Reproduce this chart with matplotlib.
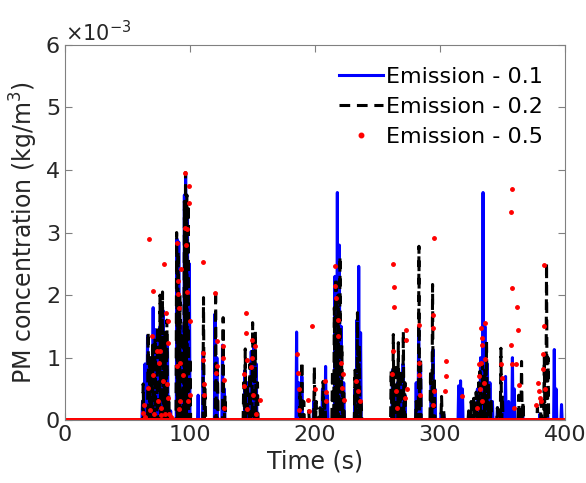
import numpy as np
import matplotlib
matplotlib.use("Agg")
import matplotlib.pyplot as plt
from matplotlib.ticker import ScalarFormatter

# peak values, in units of 1e-3 kg/m^3
blue_t = [62, 64, 66, 68, 70.5, 72, 74, 76, 78.5, 80, 82, 84.5, 89.5, 91, 93, 95.5, 96.5, 98, 99.5, 106.5,
          110.5, 120, 121.5, 126, 127.5, 144, 146, 149, 151, 153,
          185.3, 187, 189.5, 199, 206, 208.5, 210, 216, 217.9, 219.5, 221, 223,
          232, 233.5, 235, 236.5, 262, 264, 266, 268.5, 270.5, 272,
          281, 283, 284.5, 293, 294.5, 296, 301, 303, 315, 316.5, 318,
          330, 332.5, 334.5, 336, 338, 340, 342, 346, 350, 352.5, 355, 358, 359.5, 366, 380, 386, 391.5, 393, 397.3]
blue_h = [0.3, 0.9, 1.35, 1.0, 1.8, 1.45, 1.3, 1.5, 1.75, 1.4, 1.2, 0.15, 2.9, 2.85, 1.5, 3.6, 3.94, 3.3, 2.5, 0.4,
          1.1, 1.7, 1.0, 1.2, 0.5, 0.8, 0.6, 1.1, 1.2, 0.9,
          1.41, 0.6, 0.7, 0.3, 0.5, 0.86, 0.4, 2.3, 3.64, 2.8, 1.5, 0.6,
          0.5, 1.6, 2.46, 1.4, 0.8, 0.5, 0.6, 0.75, 0.9, 0.4,
          0.6, 1.48, 0.9, 0.7, 1.13, 0.5, 0.12, 0.1, 0.55, 0.63, 0.5,
          0.5, 1.0, 3.64, 1.5, 0.9, 0.6, 0.3, 0.2, 0.3, 0.7, 0.3, 1.0, 0.5, 0.2, 0.1, 0.2, 1.13, 0.5, 0.25]

black_t = [62.5, 66.5, 68, 70, 72, 74, 76, 78, 80, 81.5, 83, 89.3, 90.5, 92, 94, 95.5, 96.4, 97.5, 98.5, 100,
           110.8, 112, 120.5, 122, 126.5, 128, 143, 144.2, 146, 148, 150.1, 152.3, 154,
           188, 189.5, 191, 195, 199.5, 201, 204, 206.5, 208, 214, 215.5, 216.8, 218.5, 220, 221.5, 223,
           232, 234, 235.5, 237, 261, 262.7, 264.5, 266.7, 268.5, 270.7, 272,
           281, 283.2, 284.5, 292.5, 294.1, 295.5, 301.3, 303,
           323, 325, 327, 329, 331, 332, 334, 336, 337.3, 339, 341, 346, 348.8, 350, 363, 365.3, 366.5,
           378, 381, 383.5, 385.3, 386.5]
black_h = [0.58, 1.41, 1.0, 1.2, 1.32, 1.5, 2.0, 2.05, 1.4, 1.6, 0.4, 3.0, 2.7, 2.0, 1.4, 3.5, 3.96, 3.6, 3.45, 1.0,
           1.96, 0.5, 2.09, 0.8, 1.64, 0.4, 0.6, 1.14, 0.6, 0.9, 1.56, 1.42, 0.6,
           0.5, 0.94, 0.3, 0.15, 0.85, 0.3, 0.2, 0.62, 0.3, 0.8, 1.8, 2.28, 2.0, 2.62, 1.2, 0.5,
           0.8, 1.72, 1.2, 0.3, 0.8, 1.37, 0.9, 1.24, 0.8, 1.42, 0.6,
           0.3, 2.78, 1.0, 0.8, 2.17, 0.7, 0.38, 0.15,
           0.15, 0.3, 0.35, 0.45, 0.6, 0.78, 0.9, 0.8, 1.26, 0.6, 0.3, 0.2, 1.15, 0.4, 0.4, 0.94, 0.3,
           0.2, 0.3, 1.0, 2.52, 1.0]

red_t = [62.7, 63.2, 64, 66.7, 67.5, 68, 69.9, 70.1, 70.3, 71, 73.3, 74, 75.5, 76, 76.5, 77, 78.7, 79.2, 80, 81,
         81.2, 82, 82.2, 82.7, 83.5, 85,
         89.3, 89.5, 90.1, 90.7, 91.4, 91.5, 92, 92.2, 92.5, 94.7, 95.7, 96, 96.8, 97.3, 97.9, 98.9, 99.5, 99.7, 100, 98,
         110.1, 110.5, 110.7, 111, 111.3, 120.2, 120.8, 121.3, 121.6, 126.4, 126.7, 127, 127.5,
         143, 143.3, 144.5, 144.8, 145.6, 146, 148.5, 149.3, 150, 150.5, 152, 153, 156,
         185.5, 186.7, 187, 187.3, 194.5, 195, 197.9, 200, 208.3, 208.7, 209, 216, 216.3, 216.6, 218.5, 218.8,
         220.5, 221.5, 222.5, 223.5, 232.8, 234.5, 236,
         262.5, 262.7, 263, 263.3, 262, 264.5, 266, 272.8, 273.1, 273.3, 272,
         283, 283.4, 283.6, 284, 294.3, 294.6, 295.5, 295, 294.8, 304.5, 304.8, 304.3, 317.5,
         330, 331, 331.5, 332, 333, 333.3, 333.5, 333.2, 336, 336.4, 335.5, 334, 348.8, 350,
         356.8, 357.3, 357.1, 357.7, 358, 359.5, 362, 362.3, 363, 361,
         377, 378.7, 379.5, 380, 381, 382.5, 382.8, 383.2, 383.4, 384]
red_h = [0.12, 0.25, 0.05, 0.52, 2.89, 0.17, 1.34, 2.07, 0.73, 0.1, 1.1, 0.3, 0.92, 1.1, 0.08, 0.2, 0.62, 2.5, 0.1, 1.72,
         0.58, 1.58, 0.35, 1.24, 0.1, 0.05,
         2.84, 0.86, 2.22, 2.01, 0.18, 1.8, 0.92, 0.3, 2.41, 0.72, 3.95, 3.08, 2.8, 2.05, 3.05, 3.74, 3.48, 1.58, 0.4, 0.3,
         1.08, 0.96, 2.53, 0.58, 0.4, 2.04, 0.76, 1.26, 0.86, 1.18, 1.0, 0.64, 0.2,
         0.74, 0.54, 1.71, 1.39, 0.97, 0.18, 0.85, 1.28, 0.99, 0.4, 1.18, 0.1, 0.32,
         1.06, 0.76, 0.5, 0.17, 0.33, 0.15, 1.51, 0.5, 0.63, 0.45, 0.3, 2.47, 2.15, 1.96, 1.6, 1.34,
         0.92, 0.52, 0.74, 0.32, 0.62, 0.46, 0.3,
         1.11, 2.49, 2.13, 1.81, 0.74, 0.47, 0.2, 1.45, 1.28, 0.5, 0.35,
         1.52, 0.92, 0.72, 0.4, 1.68, 1.47, 2.92, 0.47, 0.24, 0.94, 0.7, 0.47, 0.39,
         0.2, 0.9, 0.7, 0.5, 1.48, 1.32, 1.2, 0.92, 1.56, 0.98, 0.6, 0.3, 0.9, 0.67,
         1.2, 3.7, 3.33, 2.11, 0.9, 0.2, 1.81, 1.45, 0.56, 0.9,
         0.25, 0.6, 0.46, 0.35, 0.3, 0.82, 1.06, 2.48, 1.5, 0.5]


def spikes(ts, hs, w=0.5):
    x, y = [0.0], [0.0]
    for t, h in sorted(zip(ts, hs)):
        x += [t - w, t, t + w]
        y += [0.0, h, 0.0]
    x.append(400.0)
    y.append(0.0)
    return np.array(x), np.array(y) * 1e-3


bx, by = spikes(blue_t, blue_h)
kx, ky = spikes(black_t, black_h)
# red series: sampled every 0.5 s, zero except the read points
rt0 = np.arange(0, 400.01, 0.5)
rx = np.concatenate([rt0, red_t])
ry = np.concatenate([np.zeros_like(rt0), np.array(red_h) * 1e-3])

fig = plt.figure(figsize=(5.86, 4.83), dpi=100)
ax = fig.add_axes([0.111, 0.130, 0.853, 0.777])

ax.plot(bx, by, color='#0000ff', lw=2.2, label='Emission - 0.1')
ax.plot(kx, ky, color='black', lw=2.2, ls=(0, (3.5, 2.2)), label='Emission - 0.2')
ax.plot(rx, ry, ls='none', marker='o', ms=2.5, color='#ff0000', mec='#ff0000', label='Emission - 0.5')

ax.set_xlim(0, 400)
ax.set_ylim(0, 6e-3)
ax.set_xticks([0, 100, 200, 300, 400])
ax.set_yticks(np.arange(0, 7) * 1e-3)
fmt = ScalarFormatter(useMathText=True)
fmt.set_powerlimits((-2, 2))
ax.yaxis.set_major_formatter(fmt)
ax.yaxis.get_offset_text().set_fontsize(15)
ax.yaxis.get_offset_text().set_color('0.15')

ax.tick_params(direction='in', top=True, right=True, length=5, width=0.8,
               labelsize=16, colors='0.15', color='0.5')
for s in ax.spines.values():
    s.set_color('0.5')
    s.set_linewidth(0.8)

ax.set_xlabel('Time (s)', fontsize=17, color='0.15', labelpad=3)
ax.set_ylabel('PM concentration (kg/m$^3$)', fontsize=17, color='0.15', labelpad=4)

leg = ax.legend(loc='upper right', frameon=False, fontsize=16, handlelength=2.0,
                handletextpad=0.1, borderaxespad=0.6, labelspacing=0.45, markerscale=1.3)

fig.savefig('out.png', dpi=100)
